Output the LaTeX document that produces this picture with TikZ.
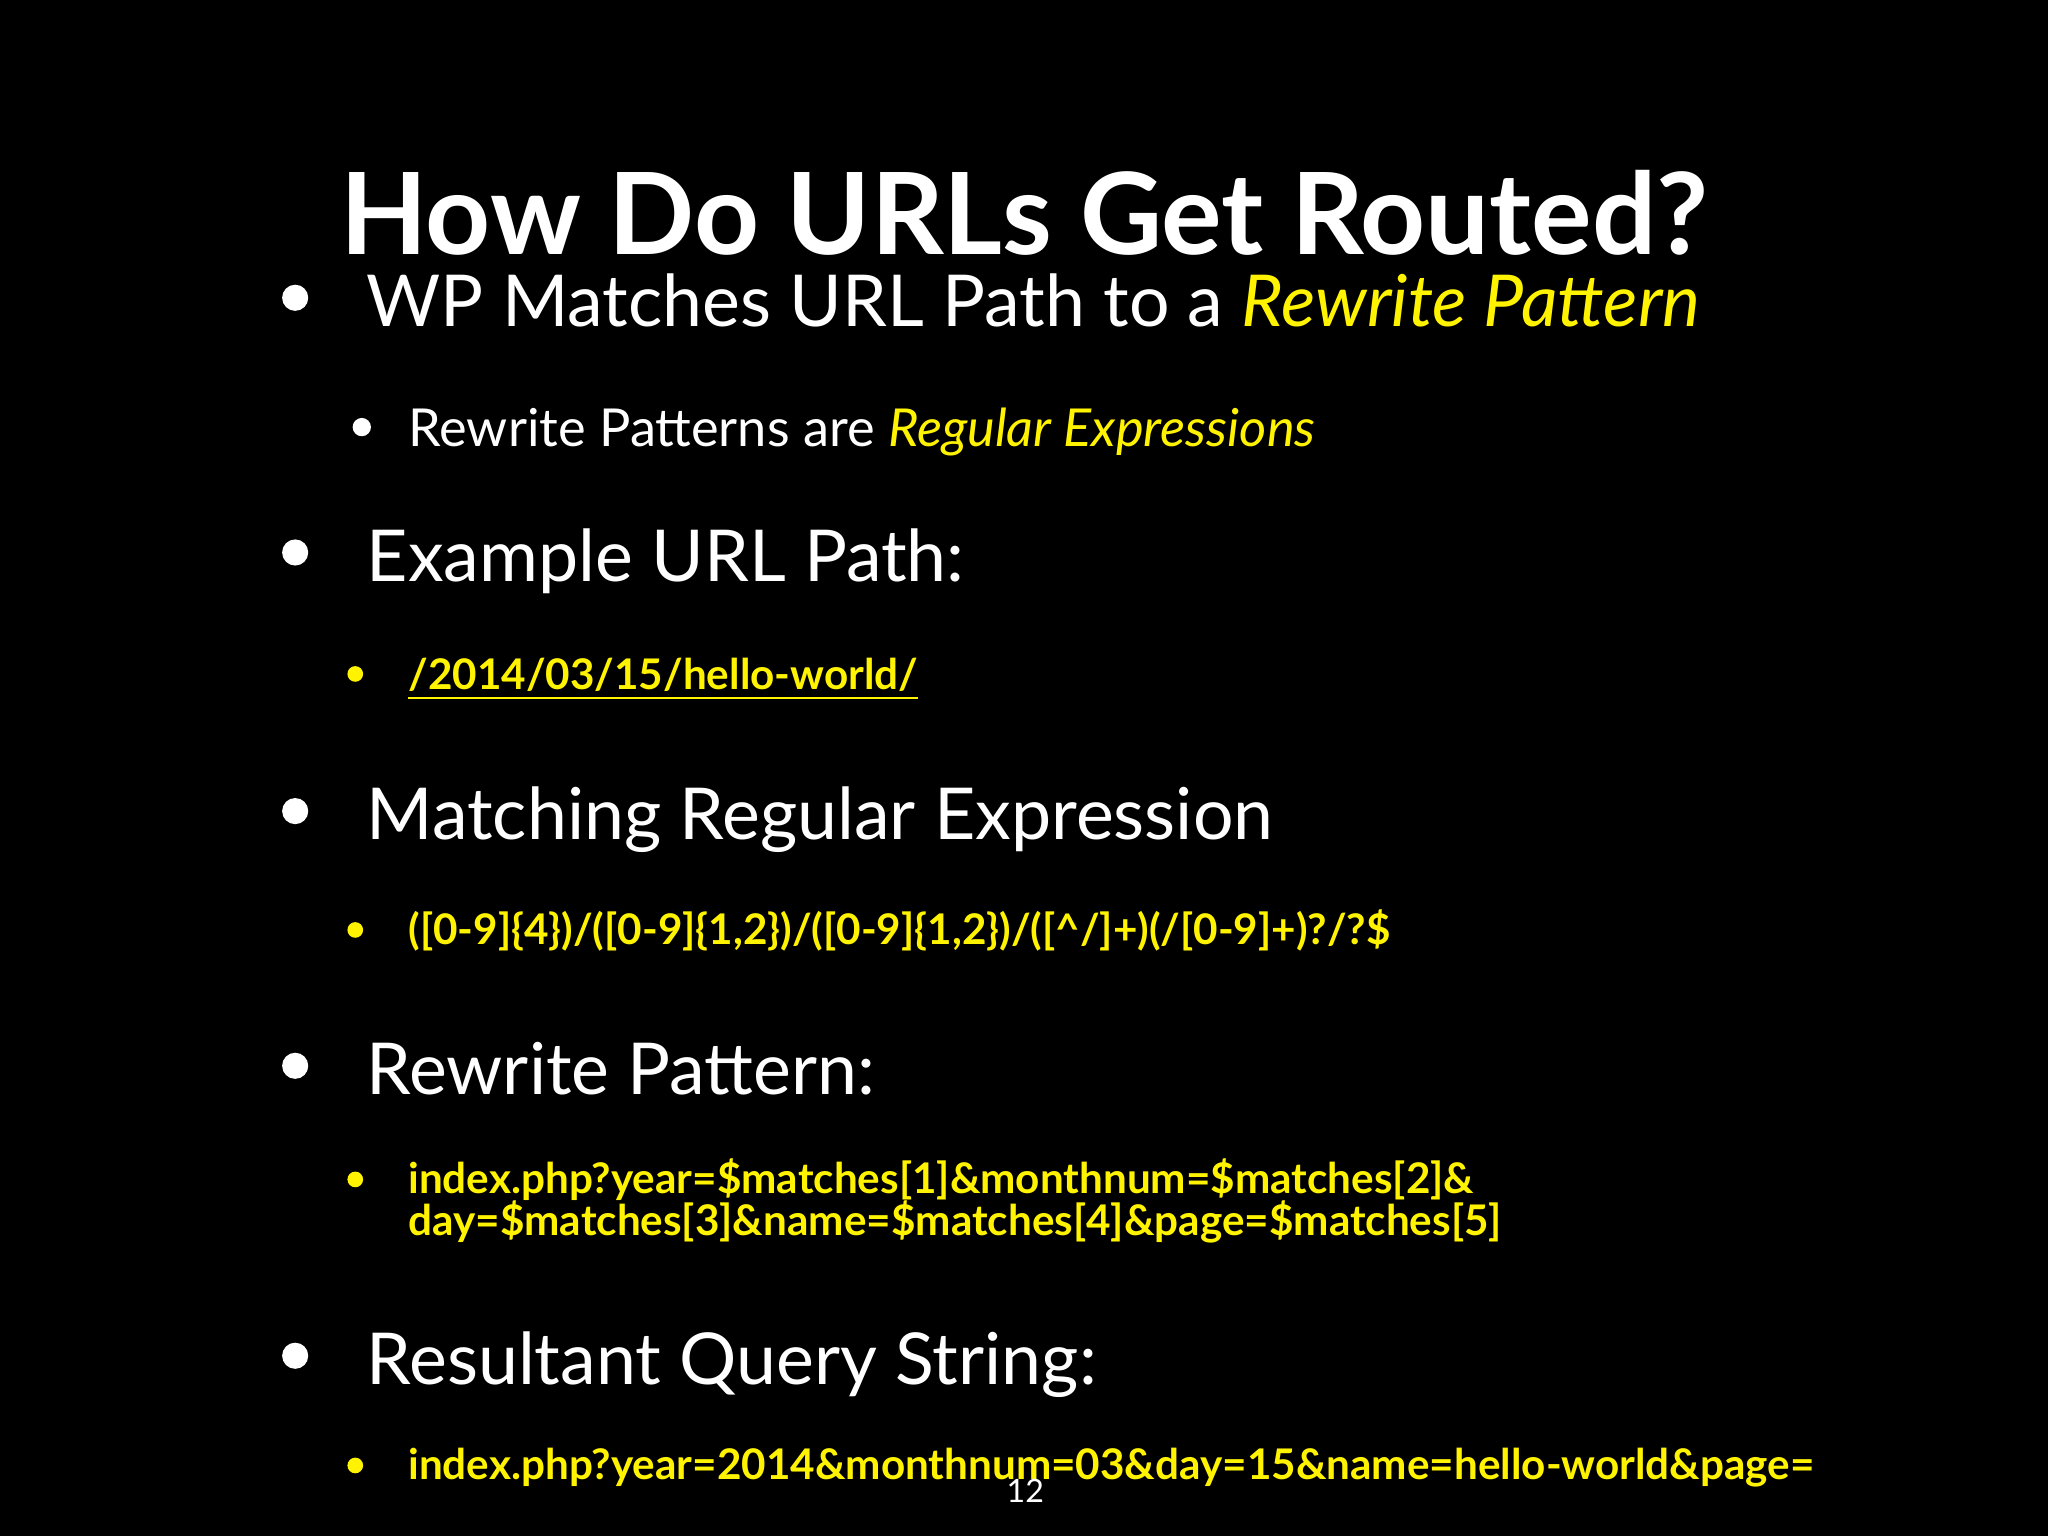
\documentclass[tikz,border=0pt]{standalone}
\usepackage{fontspec}
\setmainfont{Lato}
\definecolor{hl}{RGB}{255,243,0}
\begin{document}
\begin{tikzpicture}[x=1cm,y=1cm,
  lone/.style={anchor=base west,text=white,font=\fontsize{15.6}{18}\selectfont,inner sep=0},
  ltwo/.style={anchor=base west,text=white,font=\fontsize{11.4}{14}\selectfont,inner sep=0},
  code/.style={anchor=base west,text=hl,font=\fontsize{9.2}{12}\selectfont\bfseries,inner sep=0},
  bone/.style={circle,fill=white,inner sep=0,minimum size=0.2cm},
  btwo/.style={circle,fill=white,inner sep=0,minimum size=0.14cm},
  bthree/.style={circle,fill=hl,inner sep=0,minimum size=0.12cm}]
\fill[black] (0,0) rectangle (15.68,-11.76);
\useasboundingbox (0,0) rectangle (15.68,-11.76);
\node[anchor=base,text=white,font=\fontsize{24.7}{26}\selectfont\bfseries,inner sep=0] (title) at (7.84,-1.95) {How Do URLs Get Routed?};
\node[bone] (b1) at (2.26,-2.28) {};
\node[lone] (t1) at (2.8,-2.5) {WP Matches URL Path to a \textcolor{hl}{\itshape Rewrite Pattern}};
\node[btwo] (b2) at (2.77,-3.27) {};
\node[ltwo] (t2) at (3.12,-3.42) {Rewrite Patterns are \textcolor{hl}{\itshape Regular Expressions}};
\node[bone] (b3) at (2.26,-4.23) {};
\node[lone] (t3) at (2.8,-4.45) {Example URL Path:};
\node[bthree] (b4) at (2.72,-5.16) {};
\node[code] (t4) at (3.12,-5.28) {\underline{/2014/03/15/hello-world/}};
\node[bone] (b5) at (2.26,-6.21) {};
\node[lone] (t5) at (2.8,-6.43) {Matching Regular Expression};
\node[bthree] (b6) at (2.72,-7.12) {};
\node[code] (t6) at (3.12,-7.23) {([0-9]\{4\})/([0-9]\{1,2\})/([0-9]\{1,2\})/([\textasciicircum/]+)(/[0-9]+)?/?\$};
\node[bone] (b7) at (2.26,-8.16) {};
\node[lone] (t7) at (2.8,-8.38) {Rewrite Pattern:};
\node[bthree] (b8) at (2.72,-9.03) {};
\node[code] (t8) at (3.12,-9.14) {index.php?year=\$matches[1]\&monthnum=\$matches[2]\&};
\node[code] (t8b) at (3.12,-9.46) {day=\$matches[3]\&name=\$matches[4]\&page=\$matches[5]};
\node[bone] (b9) at (2.26,-10.38) {};
\node[lone] (t9) at (2.8,-10.6) {Resultant Query String:};
\node[bthree] (b10) at (2.72,-11.22) {};
\node[code] (t10) at (3.12,-11.33) {index.php?year=2014\&monthnum=03\&day=15\&name=hello-world\&page=};
\node[anchor=base,text=white,font=\fontsize{7}{8}\selectfont,inner sep=0] (pg) at (7.85,-11.5) {12};
\end{tikzpicture}
\end{document}
